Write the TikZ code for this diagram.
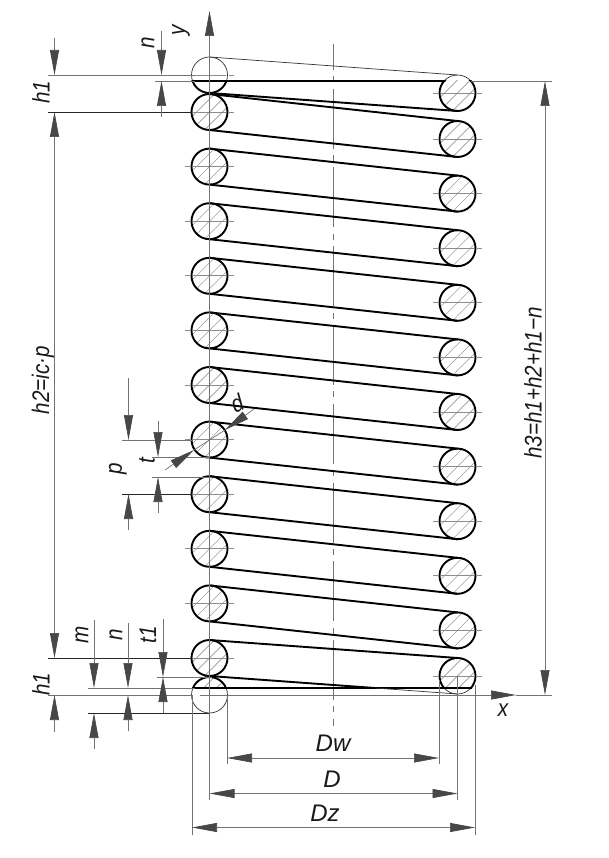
\documentclass[tikz,border=0pt]{standalone}
\usepackage{fontspec}
\setmainfont{Liberation Sans}
\newfontfamily\dimfont[FakeStretch=.86]{Liberation Sans}
\usetikzlibrary{arrows.meta}

\begin{document}
\begin{tikzpicture}[x=1pt,y=-1pt]
\tikzset{thin line/.style = {line width=.7pt,black!55}}
\tikzset{wire/.style = {line width=1.9pt,line cap=round}}
\tikzset{hatch line/.style = {line width=.4pt,black!50}}
\tikzset{centre/.style = {line width=.7pt,black!45,dash pattern=on 5pt off 3pt on 33pt off 3pt on 5pt}}
\tikzset{dimtip/.style = {line width=.7pt,black!55,-{Triangle[length=25pt,width=9pt,black!72]}}}
\tikzset{dimtext/.style = {font=\fontsize{24}{24}\dimfont\itshape,inner sep=0pt,text=black!90}}
\tikzset{widetext/.style = {font=\fontsize{24}{24}\selectfont\itshape,inner sep=0pt,text=black!90}}

\useasboundingbox (0,0) rectangle (608,858);

\newcommand{\coilhatch}[2]{%
  \foreach \h in {-39,-26,...,39}
    \draw[hatch line] (#1+\h-30,#2+30) -- (#1+\h+30,#2-30);}

%hatching
\foreach \k in {0,...,10} {
  \pgfmathsetmacro{\ly}{112+54.6*\k}
  \begin{scope}
    \clip (209.5,\ly) circle (18);
    \coilhatch{209.5}{\ly}
  \end{scope}
}
\foreach \k in {0,...,9} {
  \pgfmathsetmacro{\ry}{139+54.6*\k}
  \begin{scope}
    \clip (457.5,\ry) circle (18);
    \coilhatch{457.5}{\ry}
  \end{scope}
}
\begin{scope}
  \clip (440,81) rectangle (480,115);
  \clip (457.5,93) circle (18);
  \coilhatch{457.5}{93}
\end{scope}
\begin{scope}
  \clip (440,650) rectangle (480,688);
  \clip (457.5,676) circle (18);
  \coilhatch{457.5}{676}
\end{scope}
\begin{scope}
  \clip (190,670) rectangle (230,688);
  \clip (209.5,695) circle (18);
  \coilhatch{209.5}{695}
\end{scope}

%centre lines
\foreach \k in {0,...,10} {
  \pgfmathsetmacro{\ly}{112+54.6*\k}
  \draw[centre] (185,\ly) -- (234,\ly);
}
\foreach \k in {0,...,9} {
  \pgfmathsetmacro{\ry}{139+54.6*\k}
  \draw[centre] (433,\ry) -- (482,\ry);
}
\draw[centre] (185,75) -- (234,75);
\draw[centre] (433,93) -- (482,93);
\draw[centre] (433,676) -- (482,676);
\draw[line width=.9pt,black!55,dash pattern=on 60pt off 6.4pt on 6pt off 6.35pt,dash phase=34pt] (333,44) -- (333,726);

%coil
\foreach \k in {0,...,10} {
  \pgfmathsetmacro{\ly}{112+54.6*\k}
  \draw[wire] (209.5,\ly) circle (18);
}
\foreach \k in {0,...,9} {
  \pgfmathsetmacro{\ly}{112+54.6*\k}
  \pgfmathsetmacro{\ry}{139+54.6*\k}
  \draw[wire] (457.5,\ry) circle (18);
  \draw[wire] (209.5,\ly-18) -- (457.5,\ry-18);
  \draw[wire] (209.5,\ly+18) -- (457.5,\ry+18);
}
%end turns
\draw[thin line,black!80] (209.5,75) circle (18);
\draw[thin line,black!80] (209.5,695) circle (18);
\draw[thin line,black!80] (457.5,93) circle (18);
\draw[thin line,black!80] (457.5,676) circle (18);
\draw[thin line,black!80] (209.5,57) -- (457.5,75);
\begin{scope}
  \clip (185,81) rectangle (240,100);
  \draw[wire] (209.5,75) circle (18);
\end{scope}
\begin{scope}
  \clip (430,81) rectangle (485,120);
  \draw[wire] (457.5,93) circle (18);
\end{scope}
\begin{scope}
  \clip (185,670) rectangle (240,688);
  \draw[wire] (209.5,695) circle (18);
\end{scope}
\begin{scope}
  \clip (430,650) rectangle (485,688);
  \draw[wire] (457.5,676) circle (18);
\end{scope}
\draw[wire] (192.5,81) -- (445,81);
\draw[wire] (193,688) -- (471.5,688);
\draw[wire] (209.5,93) -- (457.5,111);
\draw[wire] (209.5,640) -- (457.5,658);
\draw[wire] (209.5,676) -- (375,688);
\draw[thin line,black!80] (375,688) -- (457.5,694);

%axes
\draw[dimtip] (209.5,800) -- (209.5,11);
\draw[dimtip] (200,695) -- (516,695);
\draw[thin line] (516,695) -- (552,695);
\draw[thin line] (471,81) -- (552,81);

%extension lines
\draw[thin line] (48,75) -- (195,75);
\draw[thin line,black!85] (48,112) -- (192,112);
\draw[thin line,black!85] (48,658) -- (192,658);
\draw[thin line] (48,695) -- (192,695);
\draw[thin line] (155,81) -- (195,81);
\draw[thin line] (122,440) -- (192,440);
\draw[thin line,black!85] (122,494) -- (192,494);
\draw[thin line] (152,457) -- (210,457);
\draw[thin line] (152,477) -- (210,477);
\draw[thin line] (88,688) -- (195,688);
\draw[thin line,black!85] (88,713) -- (209,713);
\draw[thin line] (157,677) -- (212,677);
\draw[thin line] (192,695) -- (192,835);
\draw[thin line] (227,695) -- (227,764);
\draw[thin line] (439,680) -- (439,764);
\draw[thin line] (457.5,676) -- (457.5,800);
\draw[thin line] (475,685) -- (475,835);

%dimensions on the left
\draw[dimtip] (54.5,38) -- (54.5,75);
\draw[dimtip] (54.5,640) -- (54.5,112);
\draw[dimtip] (54.5,137) -- (54.5,658);
\draw[dimtip] (54.5,732) -- (54.5,695);
\draw[dimtip] (161.5,31) -- (161.5,75);
\draw[dimtip] (161.5,117) -- (161.5,81);
\draw[dimtip] (94,620) -- (94,688);
\draw[dimtip] (94,749) -- (94,713);
\draw[dimtip] (128,623) -- (128,688);
\draw[dimtip] (128,731) -- (128,695);
\draw[dimtip] (163,619) -- (163,677);
\draw[dimtip] (163,713) -- (163,677);
\draw[dimtip] (128.5,378) -- (128.5,440);
\draw[dimtip] (128.5,530) -- (128.5,494);
\draw[dimtip] (158,421) -- (158,457);
\draw[dimtip] (158,513) -- (158,477);

%wire diameter
\draw[dimtip] (165,470) -- (194,450);
\draw[dimtip] (254,409) -- (225,430);
\draw[thin line] (194,450) -- (225,430);

%dimensions on the right and below
\draw[dimtip] (545,110) -- (545,81);
\draw[dimtip] (545,110) -- (545,695);
\draw[dimtip] (260,758) -- (227,758);
\draw[dimtip] (260,758) -- (439,758);
\draw[dimtip] (260,793.5) -- (209.5,793.5);
\draw[dimtip] (260,793.5) -- (457.5,793.5);
\draw[dimtip] (260,827.5) -- (192,827.5);
\draw[dimtip] (260,827.5) -- (475,827.5);

%labels
\node[dimtext,rotate=90] (ylabel) at (181,30) {y};
\node[dimtext] (xlabel) at (503,710) {x};
\node[dimtext,rotate=90] (h1top) at (41,92) {h1};
\node[dimtext,rotate=90] (h1bottom) at (41,684) {h1};
\node[dimtext,rotate=90] (h2label) at (43,380) {h2=ic·p};
\node[dimtext,rotate=90] (h3label) at (533,383) {h3=h1+h2+h1−n};
\node[dimtext,rotate=90] (ntop) at (148,43) {n};
\node[dimtext,rotate=90] (plabel) at (118,469) {p};
\node[dimtext,rotate=90] (tlabel) at (147,461) {t};
\node[dimtext,rotate=25] (dlabel) at (237,403) {d};
\node[dimtext,rotate=90] (mlabel) at (82,635) {m};
\node[dimtext,rotate=90] (nbottom) at (116,635) {n};
\node[dimtext,rotate=90] (t1label) at (148,635) {t1};
\node[widetext] (dwlabel) at (333,743) {Dw};
\node[widetext] (dlabelb) at (332,779) {D};
\node[widetext] (dzlabel) at (325,813) {Dz};

\end{tikzpicture}
\end{document}
